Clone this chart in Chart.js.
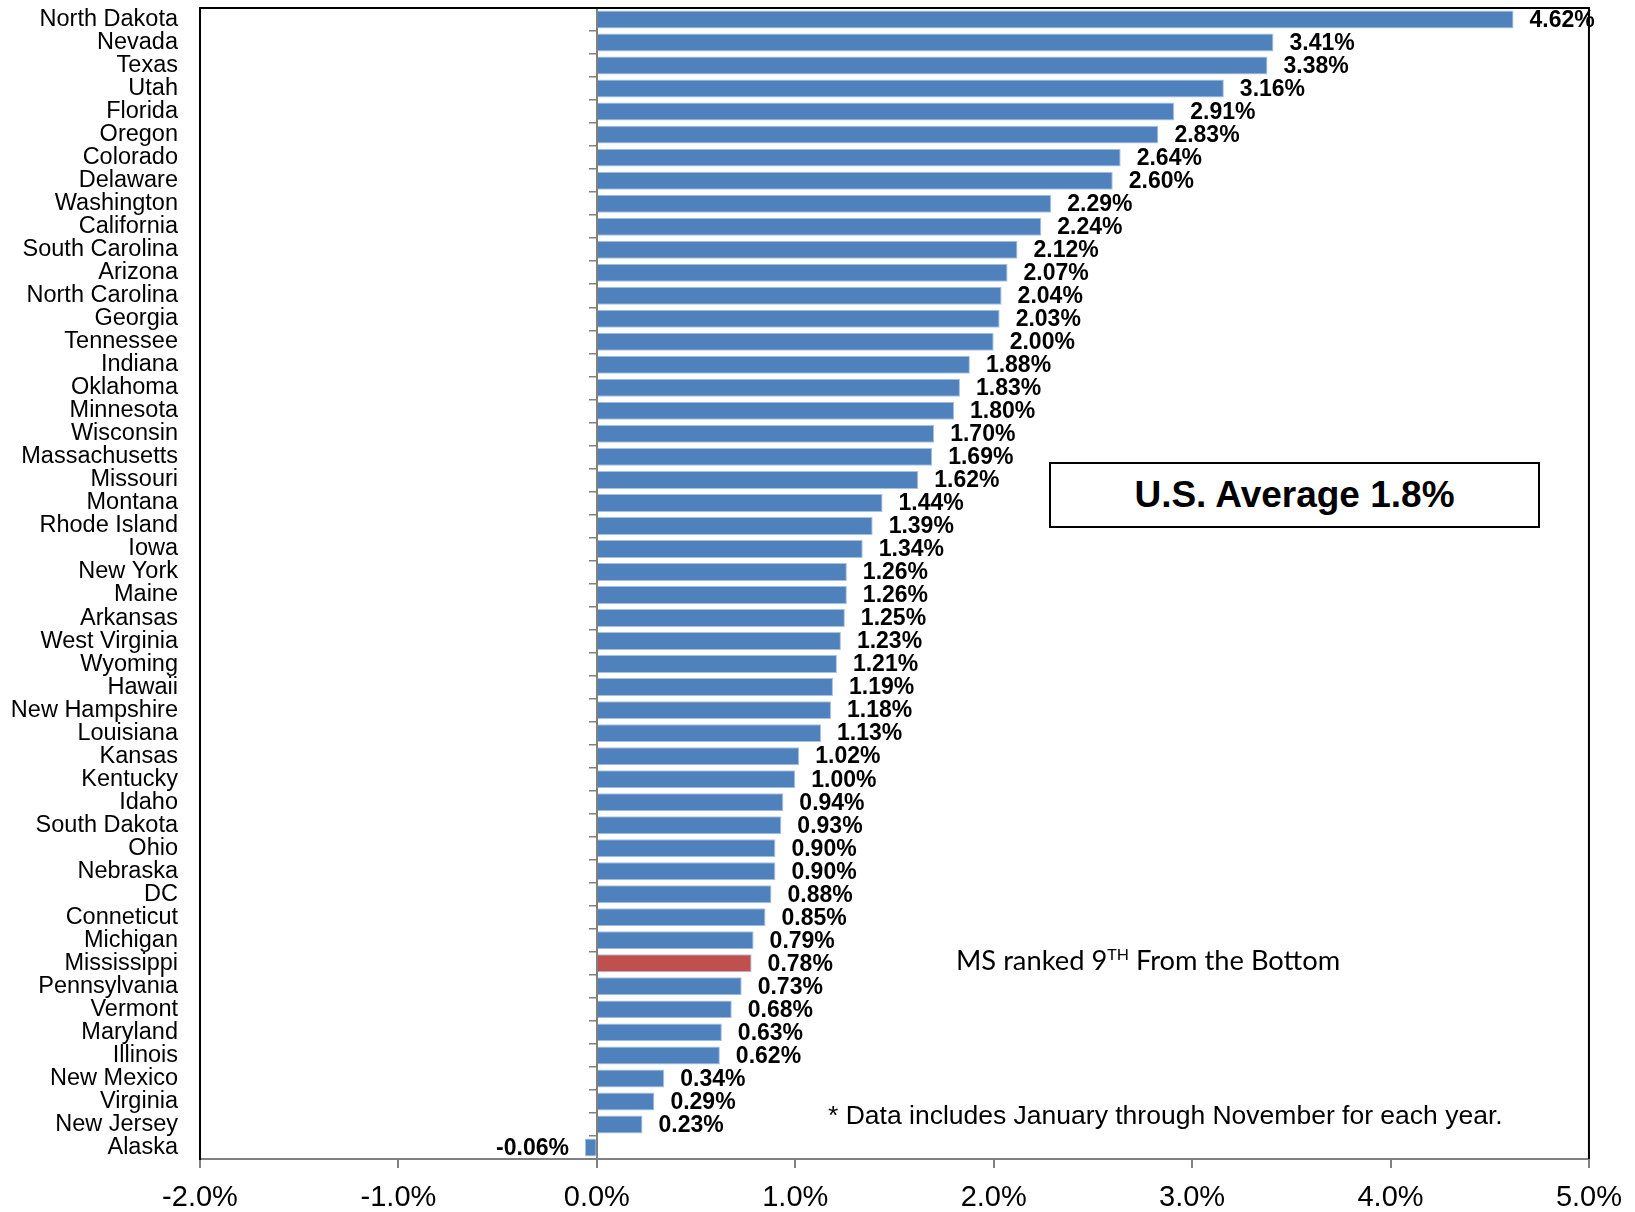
<!DOCTYPE html>
<html>
<head>
<meta charset="utf-8">
<script src="https://cdn.jsdelivr.net/npm/chart.js@4/dist/chart.umd.min.js"></script>
<style>
    body { margin: 0; background: #fff; }
    #wrap { position: relative; width: 1635px; height: 1212px; }
    #grafico { position: absolute; left: 0; top: 0; }
    .nota { position: absolute; color: #000; white-space: nowrap; }
    #boxMedia {
        left: 1049px; top: 462px; width: 487px; height: 62px;
        border: 2px solid #000; background: #fff;
        font: bold 37px 'Liberation Sans', Arial, sans-serif;
        display: flex; align-items: center; justify-content: center;
    }
    #notaMS { left: 956px; top: 943px; font: 27.3px Lato, 'Noto Sans', sans-serif; }
    #notaMS sup { font-size: 16px; vertical-align: 10px; line-height: 0; }
    #notaDati { left: 828px; top: 1100px; font: 26.5px 'Liberation Sans', Arial, sans-serif; }
</style>
</head>
<body>
<div id="wrap">
    <canvas id="grafico" width="1635" height="1212"></canvas>
    <div class="nota" id="boxMedia">U.S. Average 1.8%</div>
    <div class="nota" id="notaMS">MS ranked 9<sup>TH</sup> From the Bottom</div>
    <div class="nota" id="notaDati">* Data includes January through November for each year.</div>
</div>
<script>
// stati, dall'alto verso il basso
const stati = [
    "North Dakota", "Nevada", "Texas", "Utah", "Florida", "Oregon", "Colorado", "Delaware", "Washington", "California",
    "South Carolina", "Arizona", "North Carolina", "Georgia", "Tennessee", "Indiana", "Oklahoma", "Minnesota", "Wisconsin", "Massachusetts",
    "Missouri", "Montana", "Rhode Island", "Iowa", "New York", "Maine", "Arkansas", "West Virginia", "Wyoming", "Hawaii",
    "New Hampshire", "Louisiana", "Kansas", "Kentucky", "Idaho", "South Dakota", "Ohio", "Nebraska", "DC", "Conneticut",
    "Michigan", "Mississippi", "Pennsylvania", "Vermont", "Maryland", "Illinois", "New Mexico", "Virginia", "New Jersey", "Alaska"
];
// crescita in %
const crescita = [
    4.62, 3.41, 3.38, 3.16, 2.91, 2.83, 2.64, 2.60, 2.29, 2.24,
    2.12, 2.07, 2.04, 2.03, 2.00, 1.88, 1.83, 1.80, 1.70, 1.69,
    1.62, 1.44, 1.39, 1.34, 1.26, 1.26, 1.25, 1.23, 1.21, 1.19,
    1.18, 1.13, 1.02, 1.00, 0.94, 0.93, 0.90, 0.90, 0.88, 0.85,
    0.79, 0.78, 0.73, 0.68, 0.63, 0.62, 0.34, 0.29, 0.23, -0.06
];
const statoEvidenziato = "Mississippi";
const asseMin = -2;
const asseMax = 5;
const passo = 1;

const fontBase = "'Liberation Sans', Arial, sans-serif";
const colori = stati.map(s => s === statoEvidenziato ? '#C0504D' : '#4F81BD');

// etichette dei valori a fine barra
const etichettePlugin = {
    id: 'etichettePlugin',
    afterDatasetsDraw(chart) {
        const ctx = chart.ctx;
        const meta = chart.getDatasetMeta(0);
        ctx.save();
        ctx.font = "bold 23px " + fontBase;
        ctx.fillStyle = '#000';
        ctx.textBaseline = 'middle';
        meta.data.forEach((barra, i) => {
            const v = crescita[i];
            const testo = v.toFixed(2) + '%';
            if (v >= 0) {
                ctx.textAlign = 'left';
                ctx.fillText(testo, barra.x + 16, barra.y + 1);
            } else {
                ctx.textAlign = 'right';
                ctx.fillText(testo, barra.x - 16, barra.y + 1);
            }
        });
        ctx.restore();
    }
};

// bordo superiore e destro dell'area
const bordoPlugin = {
    id: 'bordoPlugin',
    afterDraw(chart) {
        const a = chart.chartArea;
        const ctx = chart.ctx;
        ctx.save();
        ctx.strokeStyle = '#000';
        ctx.lineWidth = 2;
        ctx.beginPath();
        ctx.moveTo(a.left, a.top);
        ctx.lineTo(a.right, a.top);
        ctx.lineTo(a.right, a.bottom);
        ctx.stroke();
        ctx.restore();
    }
};

const ctxGrafico = document.getElementById('grafico').getContext('2d');
new Chart(ctxGrafico, {
    type: 'bar',
    data: {
        labels: stati,
        datasets: [{
            data: crescita,
            backgroundColor: colori,
            borderColor: '#A9C1DF',
            borderWidth: 1,
            barPercentage: 0.78,
            categoryPercentage: 1
        }]
    },
    options: {
        indexAxis: 'y',
        responsive: false,
        animation: false,
        layout: { padding: { top: 8, right: 45, bottom: 0, left: 0 } },
        plugins: {
            legend: { display: false },
            tooltip: { enabled: false }
        },
        scales: {
            x: {
                type: 'linear',
                min: asseMin,
                max: asseMax,
                ticks: {
                    stepSize: passo,
                    color: '#000',
                    padding: 13,
                    font: { family: fontBase, size: 29 },
                    callback: v => v.toFixed(1) + '%'
                },
                grid: { drawOnChartArea: false, drawTicks: true, tickLength: 9, color: '#808080', lineWidth: 2 },
                border: { color: '#808080', width: 2 },
                afterFit(s) { s.height = 53; }
            },
            y: {
                type: 'category',
                position: 'left',
                grid: { display: false },
                border: { display: true, color: '#000', width: 2 },
                ticks: {
                    color: '#000',
                    padding: 14,
                    autoSkip: false,
                    font: { family: fontBase, size: 23.5 }
                },
                afterFit(s) {
                    s.width = 200;
                    s.paddingTop = 0;
                    s.paddingBottom = 0;
                }
            },
            yZero: {
                type: 'category',
                axis: 'y',
                position: { x: 0 },
                z: 1,
                ticks: { display: false },
                grid: { drawOnChartArea: false, drawTicks: true, tickLength: 7, color: '#808080', lineWidth: 1.5, offset: true },
                border: { color: '#808080', width: 2 }
            }
        }
    },
    plugins: [etichettePlugin, bordoPlugin]
});
</script>
</body>
</html>
